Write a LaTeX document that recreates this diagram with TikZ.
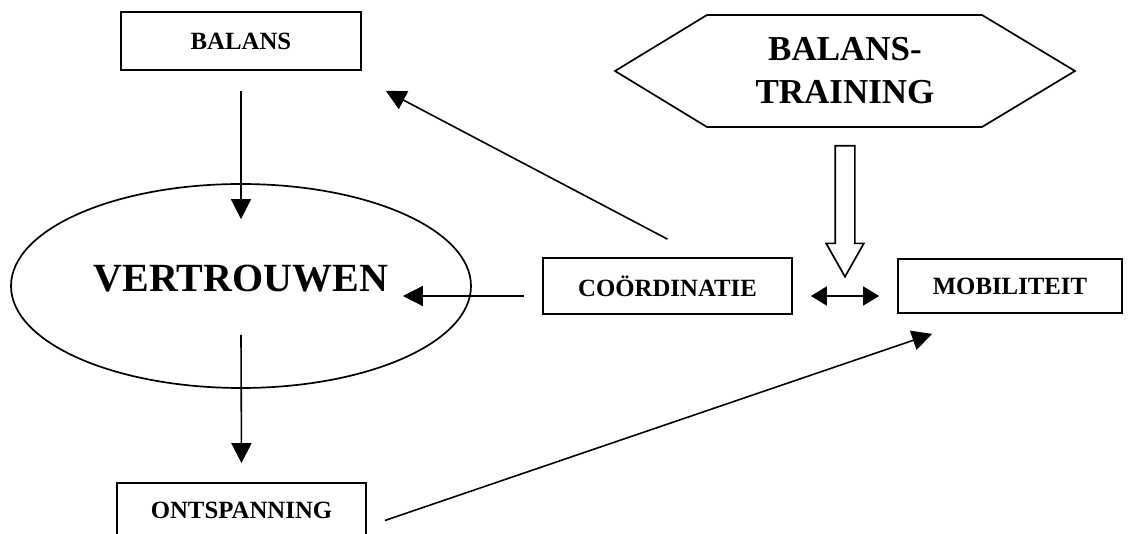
\documentclass[tikz,border=0pt]{standalone}
\usepackage{fontspec}
\setmainfont{Liberation Serif}
\usetikzlibrary{calc,shapes.geometric,shapes.arrows,arrows.meta}
\tikzstyle{blok} = [rectangle, draw=black, line width=0.85pt, minimum height=28pt, text centered, font=\fontsize{12.4}{14}\selectfont\bfseries]
\tikzstyle{groot} = [ellipse, draw=black, line width=0.85pt, minimum width=230pt, minimum height=102pt, inner sep=0pt, text depth=8pt, font=\fontsize{20}{24}\selectfont\bfseries]
\tikzstyle{zeshoek} = [line width=0.85pt]
\tikzstyle{holpijl} = [single arrow, draw=black, line width=0.85pt, rotate=-90, minimum height=65.5pt, minimum width=18pt, single arrow head extend=4.5pt, single arrow tip angle=59, inner sep=4.5pt]
\tikzstyle{pijl} = [line width=0.8pt,-{Triangle[length=10pt,width=10pt]}]
\tikzstyle{dubbelpijl} = [line width=0.8pt,{Triangle[length=8pt,width=9.5pt]}-{Triangle[length=8pt,width=9.5pt]}]

\begin{document}
\begin{tikzpicture}[x=0.5pt,y=-0.5pt]
\useasboundingbox (0,0) rectangle (1137,534);

\node (balans) [blok, minimum width=120pt, minimum height=29pt] at (241,41) {BALANS};
\node (vertrouwen) [groot] at (241,286) {VERTROUWEN};
\node (ontspanning) [blok, minimum width=124.5pt, minimum height=27.5pt] at (241.5,510.5) {ONTSPANNING};
\node (coordinatie) [blok, minimum width=124.5pt] at (667.5,286) {CO\"ORDINATIE};
\node (mobiliteit) [blok, minimum width=112pt, minimum height=27pt] at (1010,286) {MOBILITEIT};
\node (training) [font=\fontsize{17.5}{21.5}\selectfont\bfseries, align=center] at (845,71) {BALANS-\\TRAINING};
\draw [zeshoek] ($(training)+(-230,0)$) -- ++(92,-56) -- ++(275,0) -- ++(93,56) -- ++(-93,56) -- ++(-275,0) -- cycle;
\node (blokpijl) [holpijl] at (845,202.5) {};

\draw [pijl] ([yshift=-10pt]balans.south) -- ([yshift=-18pt]vertrouwen.north);
\draw [pijl] ([yshift=27pt]vertrouwen.south) -- ([yshift=9.5pt]ontspanning.north);
\draw [pijl] ([yshift=9pt]coordinatie.north) -- ([xshift=12pt,yshift=-10pt]balans.south east);
\draw [pijl] ([xshift=-9pt,yshift=-5pt]coordinatie.west) -- ([xshift=-34.5pt,yshift=-5pt]vertrouwen.east);
\draw [dubbelpijl] ([xshift=9pt,yshift=-5pt]coordinatie.east) -- ([xshift=-9pt,yshift=-5pt]mobiliteit.west);
\draw [pijl] ([xshift=9pt,yshift=-5pt]ontspanning.east) -- ([xshift=17.5pt,yshift=-10pt]mobiliteit.south west);
\end{tikzpicture}
\end{document}
